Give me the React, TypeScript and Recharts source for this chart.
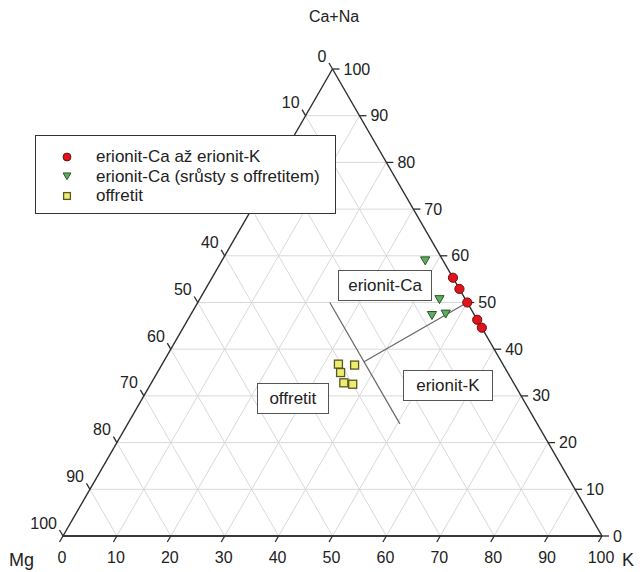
import { ScatterChart, Scatter, XAxis, YAxis, ReferenceLine, Legend } from "recharts";

// ternary diagram Mg – K – Ca+Na (values in %)
const SQ = Math.sqrt(3) / 2;

const tickValues = [0, 10, 20, 30, 40, 50, 60, 70, 80, 90, 100];
const gridValues = [10, 20, 30, 40, 50, 60, 70, 80, 90];
// Mg labels that sit under the legend box in the original
const coveredMgLabels = [20, 30];

const erionitCaK = [
    { mg: 0, k: 44.7, ca: 55.3 },
    { mg: 0, k: 47.1, ca: 52.9 },
    { mg: 0, k: 50.0, ca: 50.0 },
    { mg: 0, k: 53.7, ca: 46.3 },
    { mg: 0, k: 55.4, ca: 44.6 },
];

const erionitCaSrusty = [
    { mg: 3.3, k: 37.7, ca: 59.0 },
    { mg: 4.8, k: 44.5, ca: 50.7 },
    { mg: 7.9, k: 44.8, ca: 47.3 },
    { mg: 5.2, k: 47.2, ca: 47.6 },
];

const offretit = [
    { mg: 30.5, k: 32.7, ca: 36.8 },
    { mg: 27.6, k: 35.8, ca: 36.6 },
    { mg: 31.0, k: 34.0, ca: 35.0 },
    { mg: 31.5, k: 35.7, ca: 32.8 },
    { mg: 30.0, k: 37.5, ca: 32.5 },
];

const dividerLine = [
    { mg: 25.5, k: 24.5, ca: 50 },
    { mg: 25.5, k: 50.5, ca: 24 },
];
const connectorLine = [
    { mg: 25.5, k: 37.2, ca: 37.3 },
    { mg: 0, k: 50, ca: 50 },
];

const regionLabels = [
    { text: "erionit-Ca", mg: 13.4, k: 32.9, ca: 53.7, w: 94 },
    { text: "erionit-K", mg: 12.5, k: 55.3, ca: 32.2, w: 90 },
    { text: "offretit", mg: 42.6, k: 27.9, ca: 29.5, w: 72 },
];

type Comp = { mg: number; k: number; ca: number };
const toXY = (p: Comp) => ({ x: p.k + p.ca / 2, y: p.ca * SQ });

const W = 644;
const H = 572;
const margin = { top: 69, right: 42, bottom: 36, left: 63 };
const plotW = W - margin.left - margin.right;
const pxPerUnit = plotW / 100;
const FONT = "'Liberation Sans', Arial, sans-serif";

const GRID = "#d9d9d9";
const EDGE = "#2e2e2e";

const pxOf = (p: Comp) => {
    const { x, y } = toXY(p);
    return { left: margin.left + x * pxPerUnit, top: H - margin.bottom - y * pxPerUnit };
};

function Circle({ cx, cy, s = 1 }: any) {
    return <circle cx={cx} cy={cy} r={4.6 * s} fill="#e0151c" stroke="#6e0b0b" strokeWidth={1} />;
}
function TriDown({ cx, cy, s = 1 }: any) {
    return (
        <polygon
            points={`${cx - 4.6 * s},${cy - 3.6 * s} ${cx + 4.6 * s},${cy - 3.6 * s} ${cx},${cy + 4.4 * s}`}
            fill="#5fae5f"
            stroke="#2b552b"
            strokeWidth={1}
        />
    );
}
function Square({ cx, cy, s = 1 }: any) {
    return <rect x={cx - 4 * s} y={cy - 4 * s} width={8 * s} height={8 * s} fill="#efee6c" stroke="#56562a" strokeWidth={1.3} />;
}

function BottomTick({ cx, cy, payload }: any) {
    return (
        <g>
            <line x1={cx} y1={cy} x2={cx - 3.5} y2={cy + 6} stroke={EDGE} strokeWidth={1.3} />
            <text x={cx - 1} y={cy + 27} textAnchor="middle" fontSize={16} fill="#222" fontFamily={FONT}>
                {payload.label}
            </text>
        </g>
    );
}
function RightTick({ cx, cy, payload }: any) {
    return (
        <g>
            <line x1={cx} y1={cy} x2={cx + 7} y2={cy} stroke={EDGE} strokeWidth={1.3} />
            <text x={cx + 11} y={cy + 5.5} textAnchor="start" fontSize={16} fill="#222" fontFamily={FONT}>
                {payload.label}
            </text>
        </g>
    );
}
function LeftTick({ cx, cy, payload }: any) {
    return (
        <g>
            <line x1={cx} y1={cy} x2={cx - 3.5} y2={cy - 6} stroke={EDGE} strokeWidth={1.3} />
            {payload.showLabel && (
                <text x={cx - 6} y={cy - 7.5} textAnchor="end" fontSize={16} fill="#222" fontFamily={FONT}>
                    {payload.label}
                </text>
            )}
        </g>
    );
}

const legendItems = [
    { name: "erionit-Ca až erionit-K", Shape: Circle },
    { name: "erionit-Ca (srůsty s offretitem)", Shape: TriDown },
    { name: "offretit", Shape: Square },
];

function LegendBox() {
    return (
        <div
            style={{
                width: 299,
                height: 77,
                border: "1px solid #333",
                background: "#fff",
                fontFamily: FONT,
                fontSize: 17,
                color: "#222",
                boxSizing: "content-box",
            }}
        >
            <div style={{ paddingTop: 11 }}>
                {legendItems.map(({ name, Shape }) => (
                    <div key={name} style={{ display: "flex", alignItems: "center", height: 19.5, lineHeight: "19.5px" }}>
                        <svg width={12} height={12} style={{ marginLeft: 25, marginRight: 23 }}>
                            <Shape cx={6} cy={6} s={0.85} />
                        </svg>
                        <span>{name}</span>
                    </div>
                ))}
            </div>
        </div>
    );
}

export default function App() {
    const bottomTicks = tickValues.map((t) => ({ ...toXY({ mg: 100 - t, k: t, ca: 0 }), label: t }));
    const rightTicks = tickValues.map((t) => ({ ...toXY({ mg: 0, k: 100 - t, ca: t }), label: t }));
    const leftTicks = tickValues.map((t) => ({
        ...toXY({ mg: t, k: 0, ca: 100 - t }),
        label: t,
        showLabel: !coveredMgLabels.includes(t),
    }));

    const gridSegments: { x: number; y: number }[][] = [];
    gridValues.forEach((v) => {
        gridSegments.push([toXY({ mg: 100 - v, k: 0, ca: v }), toXY({ mg: 0, k: 100 - v, ca: v })]);
        gridSegments.push([toXY({ mg: 100 - v, k: v, ca: 0 }), toXY({ mg: 0, k: v, ca: 100 - v })]);
        gridSegments.push([toXY({ mg: v, k: 100 - v, ca: 0 }), toXY({ mg: v, k: 0, ca: 100 - v })]);
    });

    const cMg = toXY({ mg: 100, k: 0, ca: 0 });
    const cK = toXY({ mg: 0, k: 100, ca: 0 });
    const cTop = toXY({ mg: 0, k: 0, ca: 100 });

    return (
        <div style={{ position: "fixed", left: 0, top: 0, width: W, height: H, background: "#fff" }}>
            <ScatterChart width={W} height={H} margin={margin}>
                <XAxis type="number" dataKey="x" domain={[0, 100]} hide />
                <YAxis type="number" dataKey="y" domain={[0, 100 * SQ]} hide />
                {gridSegments.map((seg, i) => (
                    <ReferenceLine key={i} segment={seg} stroke={GRID} strokeWidth={1} ifOverflow="visible" />
                ))}
                <ReferenceLine segment={[cMg, cTop]} stroke={EDGE} strokeWidth={1.4} ifOverflow="visible" />
                <ReferenceLine segment={[cTop, cK]} stroke={EDGE} strokeWidth={1.4} ifOverflow="visible" />
                <ReferenceLine segment={[cMg, cK]} stroke="#3a3a3a" strokeWidth={2} ifOverflow="visible" />
                <ReferenceLine segment={dividerLine.map(toXY)} stroke="#666" strokeWidth={1.2} ifOverflow="visible" />
                <ReferenceLine segment={connectorLine.map(toXY)} stroke="#666" strokeWidth={1.2} ifOverflow="visible" />
                <Scatter data={bottomTicks} shape={BottomTick} isAnimationActive={false} />
                <Scatter data={rightTicks} shape={RightTick} isAnimationActive={false} />
                <Scatter data={leftTicks} shape={LeftTick} isAnimationActive={false} />
                <Scatter name="offretit" data={offretit.map(toXY)} shape={Square} isAnimationActive={false} />
                <Scatter name="erionit-Ca (srůsty s offretitem)" data={erionitCaSrusty.map(toXY)} shape={TriDown} isAnimationActive={false} />
                <Scatter name="erionit-Ca až erionit-K" data={erionitCaK.map(toXY)} shape={Circle} isAnimationActive={false} />
                <Legend
                    layout="vertical"
                    align="center"
                    verticalAlign="middle"
                    wrapperStyle={{ left: 35, top: 135, width: 301 }}
                    content={() => <LegendBox />}
                />
            </ScatterChart>

            {regionLabels.map((r) => {
                const p = pxOf(r);
                return (
                    <div
                        key={r.text}
                        style={{
                            position: "absolute",
                            left: p.left - r.w / 2,
                            top: p.top - 15.5,
                            width: r.w - 2,
                            height: 29,
                            border: "1px solid #555",
                            background: "#fff",
                            fontFamily: FONT,
                            fontSize: 17,
                            color: "#222",
                            textAlign: "center",
                            lineHeight: "29px",
                        }}
                    >
                        {r.text}
                    </div>
                );
            })}

            <div style={{ position: "absolute", left: 234, width: 200, top: 8, textAlign: "center", fontFamily: FONT, fontSize: 16, color: "#222" }}>
                Ca+Na
            </div>
            <div style={{ position: "absolute", left: 9, top: 550, fontFamily: FONT, fontSize: 18, lineHeight: "20px", color: "#222" }}>Mg</div>
            <div style={{ position: "absolute", left: 622, top: 550, fontFamily: FONT, fontSize: 18, lineHeight: "20px", color: "#222" }}>K</div>
        </div>
    );
}
